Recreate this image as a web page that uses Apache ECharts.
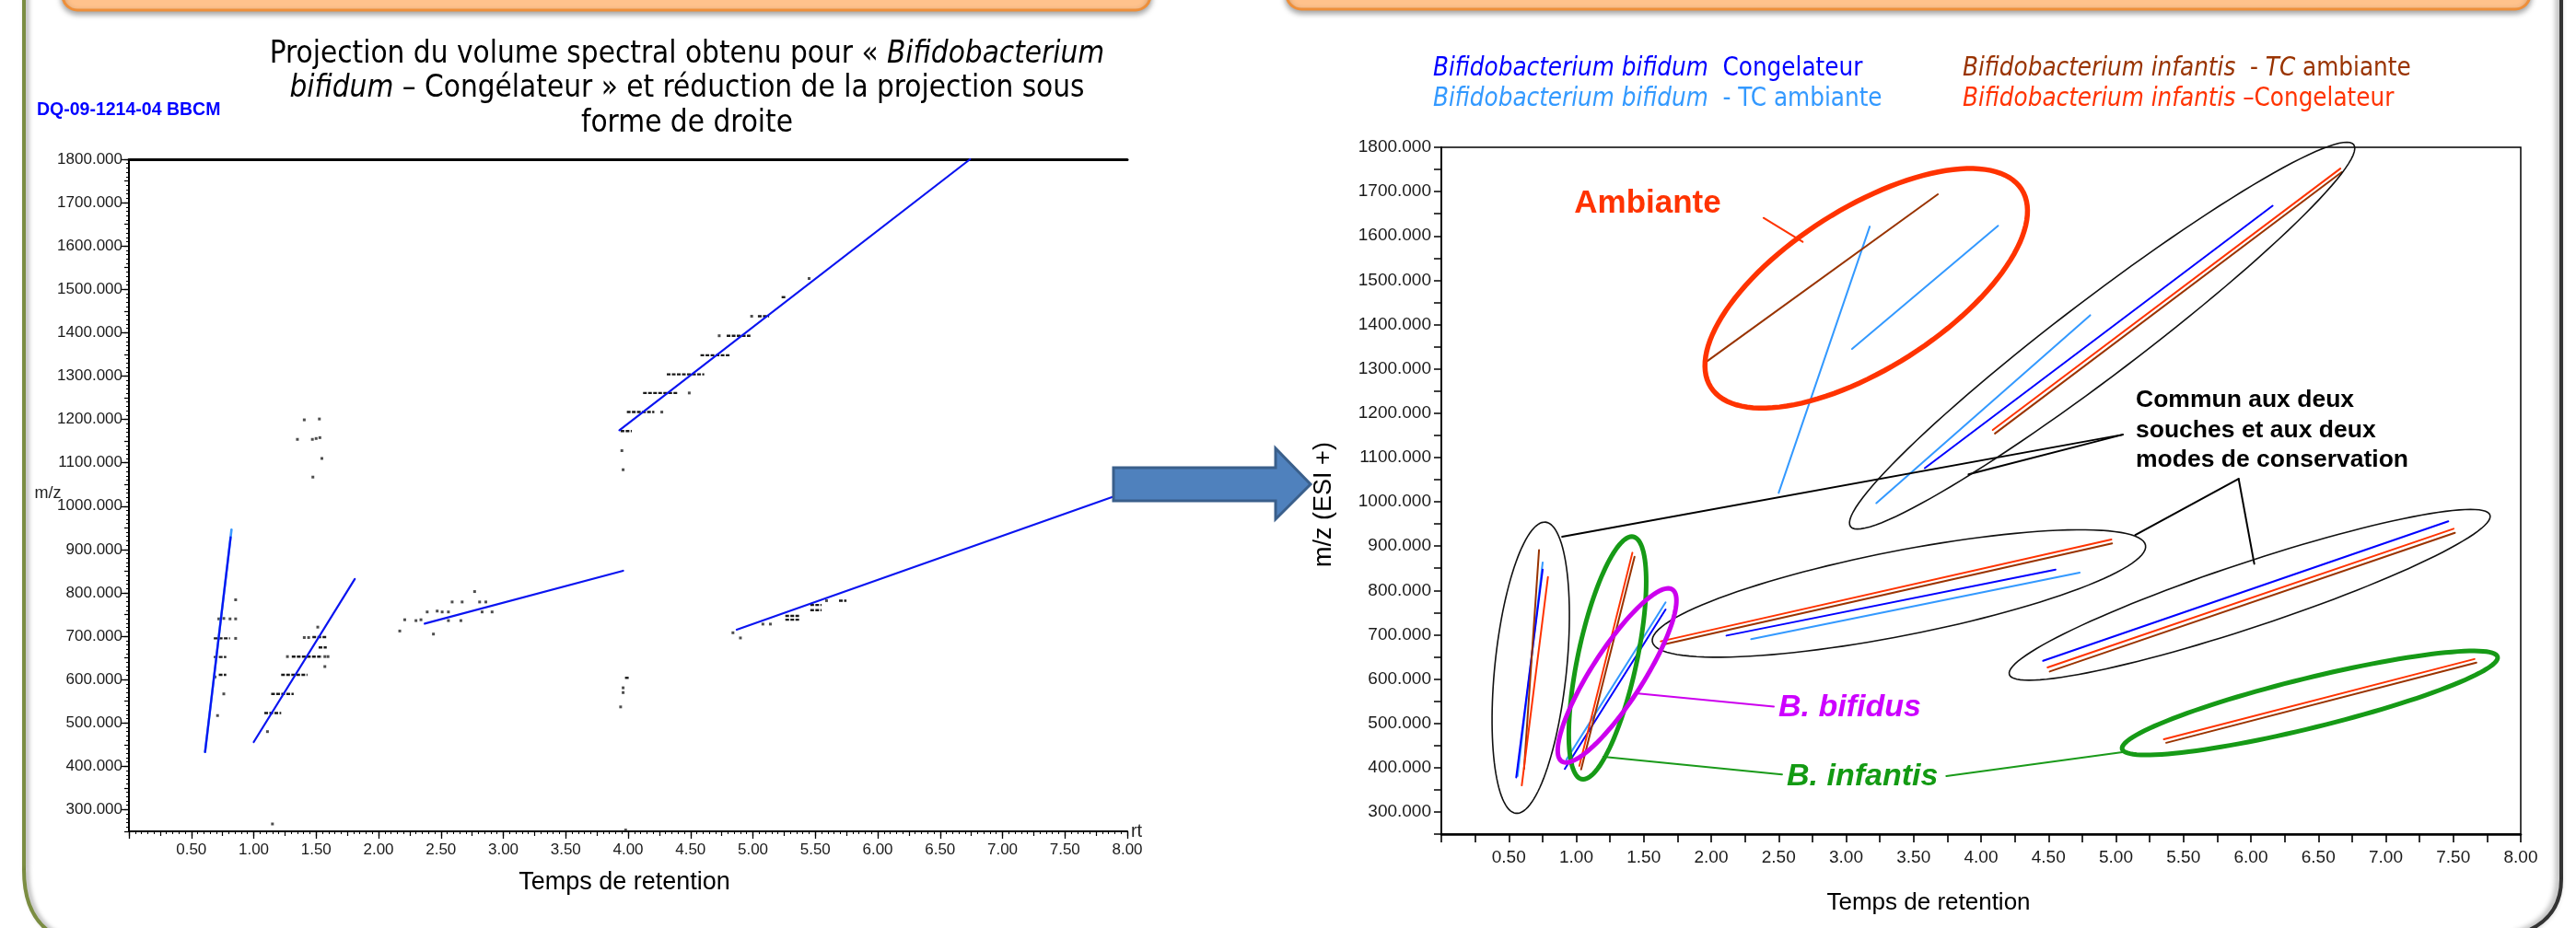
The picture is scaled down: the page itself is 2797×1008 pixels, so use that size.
<!DOCTYPE html>
<html><head><meta charset="utf-8">
<script src="https://cdn.jsdelivr.net/npm/echarts@6/dist/echarts.min.js"></script>
<style>html,body{margin:0;padding:0;background:#fff}#c{width:2797px;height:1008px}</style>
</head><body><div id="c"></div><script>
// ---------------- DATA ----------------
// Left chart: projected spectral volume (retention time, m/z)
const leftDots = [
  [0.855,784],[0.72,740],[0.76,741],[0.81,740],[0.855,740],[0.855,695],[0.69,606],[0.76,567],[0.71,517],
  [1.405,697],[1.44,697],[1.513,721],[1.27,653],[1.57,653],[1.595,653],[1.57,630],[1.11,480],[1.15,267],
  [2.77,803],[2.59,779],[2.67,779],[2.81,779],[2.86,779],
  [2.39,756],[2.47,758],[2.51,756],[2.56,756],[2.83,756],[2.91,756],
  [2.21,738],[2.30,736],[2.34,738],[2.56,736],[2.66,736],[2.17,712],[2.44,705],
  [1.405,1199],[1.526,1201],[1.35,1154],[1.47,1154],[1.50,1156],[1.53,1158],[1.546,1110],[1.474,1067],
  [3.96,581],[3.96,570],[3.94,537],[3.98,253],[3.96,1084],[3.95,1128],
  [4.27,1217],[4.49,1261],[4.73,1393],[4.99,1438],[5.45,1525],
  [4.84,708],[4.90,696],[5.08,728],[5.14,728],[5.59,782]
];
// horizontal runs of dots: [rt start, rt end, m/z]
const leftDashes = [
  [0.68,0.81,695],[0.68,0.78,652],[0.72,0.78,611],
  [1.47,1.585,698],[1.52,1.585,674],[1.305,1.55,653],[1.22,1.43,611],[1.14,1.32,567],[1.085,1.22,523],
  [3.975,4.01,604],[3.94,4.03,1173],
  [3.99,4.21,1217],[4.12,4.40,1261],[4.31,4.61,1304],[4.58,4.82,1348],[4.79,4.98,1393],[5.04,5.13,1438],[5.23,5.27,1482],
  [5.26,5.37,747],[5.26,5.37,738],[5.46,5.55,772],[5.46,5.55,760],[5.69,5.75,782]
];
// fitted straight lines: [rt1, mz1, rt2, mz2]
const leftFitLightBlue = [[0.61,433,0.822,946]];
const leftFitBlue = [[0.61,433,0.815,928],[1.00,456,1.81,832],[2.37,729,3.96,851],[3.93,1175,6.74,1800],[4.87,715,7.95,1028]];

// Right chart: reduced lines per strain / storage mode
const bifidumCongelateur = [[0.555,378,0.751,847],[0.915,397,1.662,757],[2.113,698,4.552,847],[4.460,641,7.463,956],[3.583,1076,6.161,1668]];
const bifidumAmbiante = [[0.565,381,0.751,863],[0.927,418,1.662,773],[2.296,690,4.731,840],[3.224,997,4.809,1421],[2.500,1020,3.175,1621],[3.044,1345,4.126,1623]];
const infantisAmbiante = [[0.613,397,0.724,891],[1.036,396,1.432,876],[1.648,678,4.971,906],[4.509,617,7.512,930],[5.372,456,7.671,637],[4.103,1154,6.673,1744],[1.960,1315,3.680,1694]];
const infantisCongelateur = [[0.596,360,0.790,830],[1.023,404,1.416,885],[1.626,685,4.966,915],[4.493,626,7.502,939],[5.355,464,7.657,645],[4.087,1162,6.663,1752]];

// annotation ellipses: major-axis ends [rt1, mz1, rt2, mz2] (+ half-width in px)
const commonEllipses = [[0.772,954,0.553,297,39],[1.564,684,5.219,902,46],[4.210,610,7.772,970,35],[3.033,944,6.762,1806,42]];
const infantisEllipses = [[1.423,921,1.040,374,32],[5.046,442,7.828,650,27]];
const bifidusEllipses = [[1.712,802,0.893,414,28]];
const ambianteEllipses = [[1.997,1258.5,4.301,1705,87]];
// annotation pointer lines
const commonPointers = [[5.05,1151.5,0.895,921],[5.05,1151.5,3.907,1062],[5.909,1052,5.143,925],[5.909,1052,6.025,860]];
const infantisPointers = [[1.200,424.6,2.525,384.5],[3.743,381,5.048,435]];
const bifidusPointers = [[1.439,568,2.464,538]];
const ambiantePointers = [[2.388,1640.6,2.678,1586.6]];

const xTickLabels = [0.5,1,1.5,2,2.5,3,3.5,4,4.5,5,5.5,6,6.5,7,7.5,8];
const yTickLabels = [300,400,500,600,700,800,900,1000,1100,1200,1300,1400,1500,1600,1700,1800];

// ---------------- RENDER ----------------
const comic = "'DejaVu Sans Condensed', 'DejaVu Sans', sans-serif";
const sans = "'Liberation Sans', Arial, sans-serif";

function segSeries(data, xi, yi, color, width, z) {
  return { type:'custom', xAxisIndex:xi, yAxisIndex:yi, data, clip:false, silent:true, z:z||3,
    encode:{x:[0,2], y:[1,3]},
    renderItem:(p, api) => {
      const a = api.coord([api.value(0), api.value(1)]);
      const b = api.coord([api.value(2), api.value(3)]);
      return {type:'line', shape:{x1:a[0],y1:a[1],x2:b[0],y2:b[1]}, style:{stroke:color, lineWidth:width, lineCap:'round'}};
    }};
}
function dashSeries(data, xi, yi, color, width) {
  return { type:'custom', xAxisIndex:xi, yAxisIndex:yi, data, clip:false, silent:true, z:3,
    encode:{x:[0,1], y:2},
    renderItem:(p, api) => {
      const a = api.coord([api.value(0), api.value(2)]);
      const b = api.coord([api.value(1), api.value(2)]);
      return {type:'line', shape:{x1:a[0],y1:a[1],x2:b[0],y2:b[1]}, style:{stroke:color, lineWidth:width, lineDash:[4,1.5]}};
    }};
}
function ellipseSeries(data, xi, yi, color, width) {
  return { type:'custom', xAxisIndex:xi, yAxisIndex:yi, data, clip:false, silent:true, z:5,
    encode:{x:[0,2], y:[1,3]},
    renderItem:(p, api) => {
      const a = api.coord([api.value(0), api.value(1)]);
      const b = api.coord([api.value(2), api.value(3)]);
      const hb = api.value(4);
      const cx = (a[0]+b[0])/2, cy = (a[1]+b[1])/2;
      const ha = Math.hypot(b[0]-a[0], b[1]-a[1])/2;
      const phi = Math.atan2(b[1]-a[1], b[0]-a[0]);
      const pts = [];
      for (let k = 0; k < 120; k++) {
        const th = k/120*Math.PI*2;
        const u = ha*Math.cos(th), w = hb*Math.sin(th);
        pts.push([cx + u*Math.cos(phi) - w*Math.sin(phi), cy + u*Math.sin(phi) + w*Math.cos(phi)]);
      }
      return {type:'polygon', shape:{points:pts}, style:{fill:'none', stroke:color, lineWidth:width}};
    }};
}

const chart = echarts.init(document.getElementById('c'), null, {width:2797, height:1008});

const axisTxt = {color:'#1a1a1a', fontFamily:sans};
const txt = (x, y, text, font, fill, align, extra) => Object.assign({type:'text', z:50, x, y,
  style:{text, font, fill, align:align||'center', verticalAlign:'middle', textAlign:align||'center', textVerticalAlign:'middle'}}, extra||{});
const richTxt = (x, y, text, size, fill, align) => ({type:'text', z:50, x, y,
  style:{text, align, verticalAlign:'middle', textAlign:align, textVerticalAlign:'middle',
    rich:{n:{fontFamily:comic, fontSize:size, fill, color:fill}, i:{fontFamily:comic, fontSize:size, fontStyle:'italic', fill, color:fill}}}});

const option = {
  backgroundColor:'#ffffff',
  animation:false,
  grid:[
    {left:140, right:1573, top:173, bottom:105},
    {left:1565, right:60, top:160, bottom:102, show:true, borderColor:'#000', borderWidth:1.5}
  ],
  xAxis:[
    {gridIndex:0, type:'value', min:0, max:8, interval:0.5, position:'bottom',
      axisLine:{lineStyle:{color:'#000', width:2}}, axisTick:{length:8, lineStyle:{color:'#000', width:1.3}},
      minorTick:{show:true, splitNumber:10, length:3, lineStyle:{color:'#000', width:1}},
      splitLine:{show:false}, minorSplitLine:{show:false},
      axisLabel:{customValues:xTickLabels, formatter:v=>v.toFixed(2), fontSize:17, margin:12, ...axisTxt}},
    {gridIndex:0, type:'value', min:0, max:8, interval:0.25, position:'bottom',
      axisLine:{show:false}, axisTick:{length:5, lineStyle:{color:'#000', width:1.2}}, axisLabel:{show:false}, splitLine:{show:false}},
    {gridIndex:0, type:'value', min:0, max:8, position:'top',
      axisLine:{lineStyle:{color:'#000', width:3}}, axisTick:{show:false}, axisLabel:{show:false}, splitLine:{show:false}},
    {gridIndex:1, type:'value', min:0, max:8, interval:0.25, position:'bottom',
      axisLine:{lineStyle:{color:'#000', width:2.5}}, axisTick:{length:9, lineStyle:{color:'#000', width:1.6}},
      splitLine:{show:false},
      axisLabel:{customValues:xTickLabels, formatter:v=>v.toFixed(2), fontSize:19, margin:16, ...axisTxt}}
  ],
  yAxis:[
    {gridIndex:0, type:'value', min:250, max:1800, interval:50, position:'left',
      axisLine:{show:true, lineStyle:{color:'#000', width:2}}, axisTick:{show:true, length:5, lineStyle:{color:'#000', width:1.2}},
      minorTick:{show:true, splitNumber:5, length:3, lineStyle:{color:'#000', width:1}},
      splitLine:{show:false}, minorSplitLine:{show:false},
      axisLabel:{customValues:yTickLabels, formatter:v=>v.toFixed(3), fontSize:17, margin:7, ...axisTxt}},
    {gridIndex:0, type:'value', min:250, max:1800, position:'left',
      axisLine:{show:false}, axisTick:{show:true, customValues:yTickLabels, length:8, lineStyle:{color:'#000', width:1.3}},
      axisLabel:{show:false}, splitLine:{show:false}},
    {gridIndex:1, type:'value', min:250, max:1800, interval:50, position:'left',
      axisLine:{show:true, lineStyle:{color:'#000', width:1.8}}, axisTick:{show:true, length:8, lineStyle:{color:'#000', width:1.5}},
      splitLine:{show:false},
      axisLabel:{customValues:yTickLabels, formatter:v=>v.toFixed(3), fontSize:19, margin:11, ...axisTxt}}
  ],
  series:[
    {type:'scatter', xAxisIndex:0, yAxisIndex:0, data:leftDots, symbol:'rect', symbolSize:[3,3], itemStyle:{color:'#222'}, silent:true, z:3},
    dashSeries(leftDashes, 0, 0, '#1a1a1a', 2.4),
    segSeries(leftFitLightBlue, 0, 0, '#3C9BFF', 2.6, 4),
    segSeries(leftFitBlue, 0, 0, '#0A14F0', 2.2, 4),

    segSeries(bifidumAmbiante, 3, 2, '#3399FF', 2),
    segSeries(bifidumCongelateur, 3, 2, '#0000FF', 2),
    segSeries(infantisAmbiante, 3, 2, '#993300', 2),
    segSeries(infantisCongelateur, 3, 2, '#FF3300', 2),

    segSeries(commonPointers, 3, 2, '#000000', 2, 5),
    segSeries(infantisPointers, 3, 2, '#1A9A1A', 2, 5),
    segSeries(bifidusPointers, 3, 2, '#CC00EE', 2, 5),
    segSeries(ambiantePointers, 3, 2, '#FF3300', 2, 5),

    ellipseSeries(commonEllipses, 3, 2, '#111111', 1.6),
    ellipseSeries(infantisEllipses, 3, 2, '#169A16', 5),
    ellipseSeries(bifidusEllipses, 3, 2, '#CC00EE', 5),
    ellipseSeries(ambianteEllipses, 3, 2, '#FF3300', 5.5)
  ],
  graphic:[
    // header boxes
    {type:'rect', z:1, shape:{x:68, y:-40, width:1181, height:51, r:16}, style:{fill:'#FFC28C', stroke:'#EE8F3A', lineWidth:3, shadowBlur:6, shadowOffsetY:3, shadowColor:'rgba(0,0,0,0.35)'}},
    {type:'rect', z:1, shape:{x:1397, y:-40, width:1350, height:50, r:16}, style:{fill:'#FFC28C', stroke:'#EE8F3A', lineWidth:3, shadowBlur:6, shadowOffsetY:3, shadowColor:'rgba(0,0,0,0.35)'}},
    // panel borders
    {type:'line', z:1, shape:{x1:26, y1:-10, x2:26, y2:945}, style:{stroke:'#7B8D42', lineWidth:4, shadowBlur:5, shadowOffsetX:3, shadowColor:'rgba(0,0,0,0.35)'}},
    {type:'bezierCurve', z:1, shape:{x1:26, y1:945, cpx1:26, cpy1:1000, x2:64, y2:1018}, style:{fill:'none', stroke:'#7B8D42', lineWidth:4, shadowBlur:5, shadowOffsetX:3, shadowColor:'rgba(0,0,0,0.35)'}},
    {type:'line', z:1, shape:{x1:2781, y1:-10, x2:2781, y2:955}, style:{stroke:'#333333', lineWidth:4, shadowBlur:6, shadowOffsetX:-3, shadowColor:'rgba(0,0,0,0.45)'}},
    {type:'bezierCurve', z:1, shape:{x1:2781, y1:955, cpx1:2781, cpy1:1000, x2:2734, y2:1015}, style:{fill:'none', stroke:'#333333', lineWidth:4, shadowBlur:6, shadowOffsetX:-3, shadowColor:'rgba(0,0,0,0.45)'}},
    // arrow
    {type:'polygon', z:100, shape:{points:[[1209,508],[1385,508],[1385,487],[1423,526],[1385,564],[1385,544],[1209,544]]}, style:{fill:'#4F81BD', stroke:'#3A5F8B', lineWidth:3}},
    // left title
    richTxt(746, 59, '{n|Projection du volume spectral obtenu pour « }{i|Bifidobacterium}', 33, '#000', 'center'),
    richTxt(746, 96, '{i|bifidum}{n| – Congélateur » et réduction de la projection sous}', 33, '#000', 'center'),
    richTxt(746, 134, '{n|forme de droite}', 33, '#000', 'center'),
    txt(40, 120, 'DQ-09-1214-04 BBCM', 'bold 19.5px '+sans, '#0000FF', 'left'),
    // left axis names
    txt(52, 536, 'm/z', '18px '+sans, '#222'),
    txt(1234, 903, 'rt', '20px '+sans, '#222'),
    txt(678, 959, 'Temps de retention', '27px '+sans, '#000'),
    // right legend
    richTxt(1556, 75, '{i|Bifidobacterium bifidum}{n|  Congelateur}', 27.5, '#0000FF', 'left'),
    richTxt(1556, 108, '{i|Bifidobacterium bifidum}{n|  - TC ambiante}', 27.5, '#3399FF', 'left'),
    richTxt(2131, 75, '{i|Bifidobacterium infantis}{n|  - }{i|TC}{n| ambiante}', 27.5, '#993300', 'left'),
    richTxt(2131, 108, '{i|Bifidobacterium infantis}{n| –Congelateur}', 27.5, '#FF3300', 'left'),
    // right annotations
    txt(1789, 221, 'Ambiante', 'bold 35px '+sans, '#FF3300'),
    txt(1931, 769, 'B. bifidus', 'italic bold 34px '+sans, '#CC00FF', 'left'),
    txt(1940, 844, 'B. infantis', 'italic bold 34px '+sans, '#139A13', 'left'),
    txt(2319, 435, 'Commun aux deux', 'bold 26.5px '+sans, '#000', 'left'),
    txt(2319, 468, 'souches et aux deux', 'bold 26.5px '+sans, '#000', 'left'),
    txt(2319, 500, 'modes de conservation', 'bold 26.5px '+sans, '#000', 'left'),
    // right axis names
    txt(1438, 548, 'm/z (ESI +)', '27px '+sans, '#000', 'center', {rotation:Math.PI/2}),
    txt(2094, 981, 'Temps de retention', '26px '+sans, '#000')
  ]
};
chart.setOption(option);
</script></body></html>
